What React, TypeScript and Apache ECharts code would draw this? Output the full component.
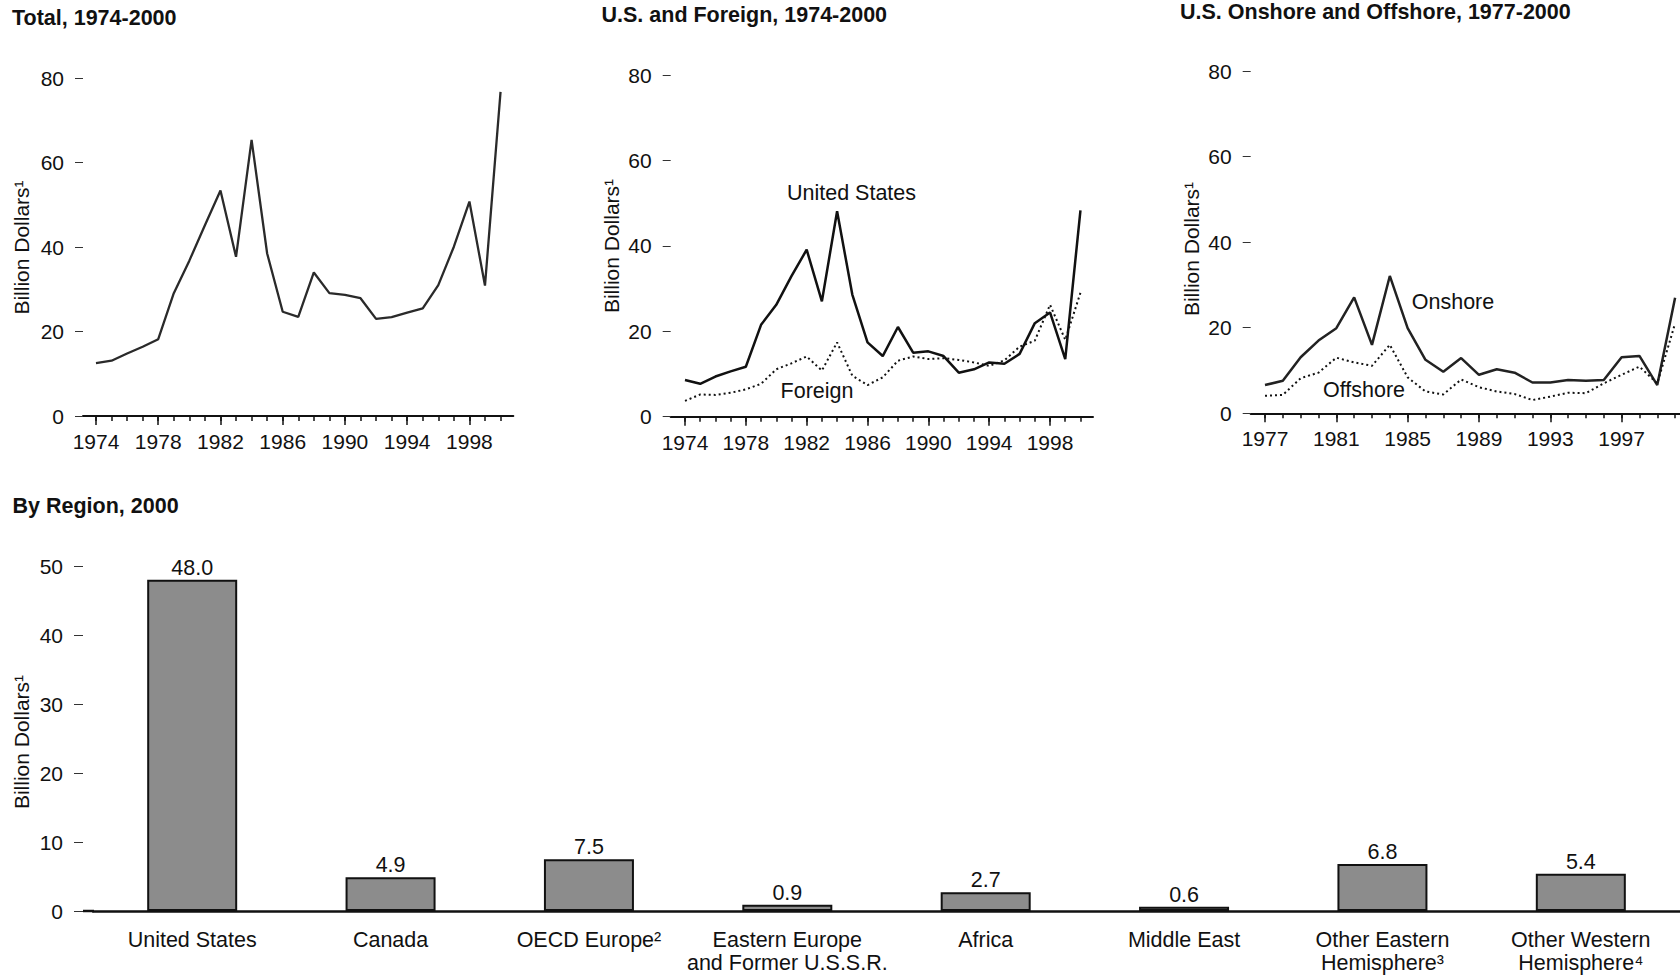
import React, { useEffect, useRef } from "react";
import * as echarts from "echarts";

// ---------- DATA ----------
const yearsA = [1974, 1975, 1976, 1977, 1978, 1979, 1980, 1981, 1982, 1983, 1984, 1985, 1986, 1987, 1988, 1989, 1990, 1991, 1992, 1993, 1994, 1995, 1996, 1997, 1998, 1999, 2000];
const labelYearsA = [1974, 1978, 1982, 1986, 1990, 1994, 1998];
const yearsB = [1977, 1978, 1979, 1980, 1981, 1982, 1983, 1984, 1985, 1986, 1987, 1988, 1989, 1990, 1991, 1992, 1993, 1994, 1995, 1996, 1997, 1998, 1999, 2000];
const labelYearsB = [1977, 1981, 1985, 1989, 1993, 1997];

const totalValues = [12.5, 13.1, 14.8, 16.4, 18.2, 29.1, 36.8, 45.2, 53.4, 37.7, 65.4, 38.5, 24.7, 23.5, 34.0, 29.1, 28.7, 27.9, 23.0, 23.4, 24.5, 25.5, 31.0, 40.1, 50.8, 30.9, 76.8];
const usValues = [8.6, 7.7, 9.4, 10.6, 11.7, 21.5, 26.2, 32.9, 39.1, 27.0, 48.1, 28.6, 17.4, 14.2, 21.0, 15.0, 15.3, 14.2, 10.3, 11.1, 12.7, 12.4, 14.7, 21.9, 24.4, 13.5, 48.3];
const foreignValues = [3.7, 5.2, 5.1, 5.6, 6.4, 7.7, 11.1, 12.5, 14.1, 10.8, 17.4, 9.6, 7.4, 9.2, 13.1, 14.1, 13.5, 13.7, 13.3, 12.7, 11.9, 13.2, 16.4, 17.8, 26.2, 18.0, 29.0];
const onshoreValues = [6.6, 7.6, 13.1, 17.0, 19.9, 27.1, 16.0, 32.1, 19.9, 12.5, 9.7, 12.9, 9.0, 10.3, 9.5, 7.2, 7.2, 7.8, 7.6, 7.8, 13.1, 13.4, 6.6, 27.0];
const offshoreValues = [4.1, 4.3, 8.2, 9.5, 13.0, 11.9, 11.1, 16.0, 8.4, 5.1, 4.4, 7.9, 6.1, 5.1, 4.5, 3.1, 3.9, 4.8, 4.7, 7.0, 9.0, 10.9, 7.0, 21.0];

const regions = [
  "United States",
  "Canada",
  "OECD Europe²",
  "Eastern Europe\nand Former U.S.S.R.",
  "Africa",
  "Middle East",
  "Other Eastern\nHemisphere³",
  "Other Western\nHemisphere⁴",
];
const regionValues = [48.0, 4.9, 7.5, 0.9, 2.7, 0.6, 6.8, 5.4];

const lineTicks = [0, 20, 40, 60, 80];
const barTicks = [0, 10, 20, 30, 40, 50];

// ---------- STYLE ----------
const FONT = '"Liberation Sans", Arial, Helvetica, sans-serif';
const INK = "#111";

function zip(xs: number[], ys: number[]) {
  return xs.map((x, i) => [x, ys[i]]);
}

function lineYAxis(gridIndex: number) {
  return {
    type: "value",
    gridIndex,
    min: lineTicks[0],
    max: lineTicks[lineTicks.length - 1],
    interval: 20,
    axisLine: { show: false },
    axisTick: { show: true, length: 8, lineStyle: { color: "#333", width: 1 } },
    axisLabel: { margin: 19, fontSize: 21, color: INK, fontFamily: FONT },
    splitLine: { show: false },
  };
}

function lineXAxes(gridIndex: number, min: number, max: number, years: number[], labelYears: number[]) {
  return [
    {
      type: "value",
      gridIndex,
      min,
      max,
      position: "bottom",
      axisLine: { show: true, lineStyle: { color: INK, width: 2 } },
      axisTick: { show: true, customValues: years, length: 5, lineStyle: { color: INK, width: 1.5 } },
      axisLabel: { show: false, customValues: years },
      splitLine: { show: false },
    },
    {
      type: "value",
      gridIndex,
      min,
      max,
      position: "bottom",
      axisLine: { show: false },
      axisTick: { show: true, customValues: labelYears, length: 9, lineStyle: { color: INK, width: 1.5 } },
      axisLabel: {
        show: true,
        customValues: labelYears,
        formatter: (v: number) => String(v),
        margin: 15,
        fontSize: 21,
        color: INK,
        fontFamily: FONT,
      },
      splitLine: { show: false },
    },
  ];
}

function text(t: string, x: number, y: number, opts: any = {}) {
  return {
    type: "text",
    x,
    y,
    rotation: opts.rotation || 0,
    silent: true,
    style: {
      text: t,
      fill: INK,
      fontSize: opts.fontSize || 21.5,
      fontWeight: opts.bold ? "bold" : "normal",
      fontFamily: FONT,
      align: opts.align || "center",
      verticalAlign: "middle",
    },
  };
}

export default function App() {
  const ref = useRef<HTMLDivElement>(null);

  useEffect(() => {
    document.body.style.margin = "0";
    if (!ref.current) return;
    const chart = echarts.init(ref.current, undefined, { renderer: "svg" });

    const option: any = {
      animation: false,
      backgroundColor: "#ffffff",
      textStyle: { fontFamily: FONT },
      grid: [
        { left: 83, top: 78.3, width: 430.3, height: 337.7 },
        { left: 670.7, top: 75, width: 422.3, height: 341.7 },
        { left: 1250.7, top: 71, width: 429.3, height: 342.3 },
        { left: 93, top: 566, width: 1587, height: 345 },
      ],
      xAxis: [
        ...lineXAxes(0, 1973.165, 2000.82, yearsA, labelYearsA),
        ...lineXAxes(1, 1973.06, 2000.825, yearsA, labelYearsA),
        ...lineXAxes(2, 1976.198, 2000.275, yearsB, labelYearsB),
        {
          type: "category",
          gridIndex: 3,
          data: regions,
          axisLine: { show: true, lineStyle: { color: INK, width: 2.5 } },
          axisTick: { show: false },
          axisLabel: {
            interval: 0,
            margin: 17,
            fontSize: 21.5,
            lineHeight: 23,
            color: INK,
            fontFamily: FONT,
          },
          splitLine: { show: false },
        },
      ],
      yAxis: [
        lineYAxis(0),
        lineYAxis(1),
        lineYAxis(2),
        {
          type: "value",
          gridIndex: 3,
          min: barTicks[0],
          max: barTicks[barTicks.length - 1],
          interval: 10,
          offset: 10,
          axisLine: { show: false },
          axisTick: { show: true, length: 9, lineStyle: { color: "#333", width: 1 } },
          axisLabel: { margin: 20, fontSize: 21, color: INK, fontFamily: FONT },
          splitLine: { show: false },
        },
      ],
      series: [
        {
          name: "Total",
          type: "line",
          xAxisIndex: 0,
          yAxisIndex: 0,
          data: zip(yearsA, totalValues),
          symbol: "none",
          lineStyle: { color: "#2a2a2a", width: 2.3 },
        },
        {
          name: "United States",
          type: "line",
          xAxisIndex: 2,
          yAxisIndex: 1,
          data: zip(yearsA, usValues),
          symbol: "none",
          lineStyle: { color: INK, width: 2.5 },
          z: 3,
        },
        {
          name: "Foreign",
          type: "line",
          xAxisIndex: 2,
          yAxisIndex: 1,
          data: zip(yearsA, foreignValues),
          symbol: "none",
          lineStyle: { color: INK, width: 2, type: [2, 3] },
        },
        {
          name: "Onshore",
          type: "line",
          xAxisIndex: 4,
          yAxisIndex: 2,
          data: zip(yearsB, onshoreValues),
          symbol: "none",
          lineStyle: { color: "#222", width: 2.5 },
          z: 3,
        },
        {
          name: "Offshore",
          type: "line",
          xAxisIndex: 4,
          yAxisIndex: 2,
          data: zip(yearsB, offshoreValues),
          symbol: "none",
          lineStyle: { color: INK, width: 2, type: [2, 3] },
        },
        {
          name: "By Region",
          type: "bar",
          xAxisIndex: 6,
          yAxisIndex: 3,
          data: regionValues,
          barWidth: 90,
          itemStyle: { color: "#8c8c8c", borderColor: INK, borderWidth: 2 },
          label: {
            show: true,
            position: "top",
            distance: 1,
            fontSize: 21.5,
            color: INK,
            fontFamily: FONT,
            formatter: (p: any) => Number(p.value).toFixed(1),
          },
        },
      ],
      graphic: [
        // titles
        text("Total, 1974-2000", 12, 18, { bold: true, align: "left" }),
        text("U.S. and Foreign, 1974-2000", 601.5, 15, { bold: true, align: "left" }),
        text("U.S. Onshore and Offshore, 1977-2000", 1180, 12, { bold: true, align: "left" }),
        text("By Region, 2000", 12.5, 506, { bold: true, align: "left" }),
        // y-axis names
        text("Billion Dollars¹", 21.7, 247.5, { rotation: Math.PI / 2, fontSize: 21 }),
        text("Billion Dollars¹", 611.7, 246, { rotation: Math.PI / 2, fontSize: 21 }),
        text("Billion Dollars¹", 1191.7, 249, { rotation: Math.PI / 2, fontSize: 21 }),
        text("Billion Dollars¹", 21, 742, { rotation: Math.PI / 2, fontSize: 21 }),
        // series annotations
        text("United States", 851.5, 193.3),
        text("Foreign", 817, 390.7),
        text("Onshore", 1453, 302),
        text("Offshore", 1364, 390),
        // short extension of the bar chart baseline to the left
        {
          type: "line",
          silent: true,
          shape: { x1: 83, y1: 911, x2: 94, y2: 911 },
          style: { stroke: INK, lineWidth: 2.5 },
        },
      ],
    };

    chart.setOption(option);
    return () => {
      chart.dispose();
    };
  }, []);

  return <div ref={ref} style={{ width: 1680, height: 976 }} />;
}
